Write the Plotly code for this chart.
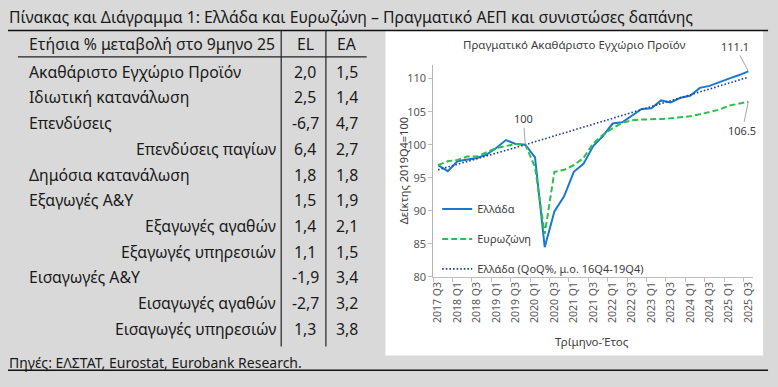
import plotly.graph_objects as go

W, H = 778, 387

# ---------------- data ----------------
row_labels = ["Ακαθάριστο Εγχώριο Προϊόν", "Ιδιωτική κατανάλωση", "Επενδύσεις",
              "Επενδύσεις παγίων", "Δημόσια κατανάλωση", "Εξαγωγές Α&Υ",
              "Εξαγωγές αγαθών", "Εξαγωγές υπηρεσιών", "Εισαγωγές Α&Υ",
              "Εισαγωγές αγαθών", "Εισαγωγές υπηρεσιών"]
row_sub = [0, 0, 0, 1, 0, 0, 1, 1, 0, 1, 1]
el_values = [2.0, 2.5, -6.7, 6.4, 1.8, 1.5, 1.4, 1.1, -1.9, -2.7, 1.3]
ea_values = [1.5, 1.4, 4.7, 2.7, 1.8, 1.9, 2.1, 1.5, 3.4, 3.2, 3.8]

quarters = ["2017 Q3", "2017 Q4",
            "2018 Q1", "2018 Q2", "2018 Q3", "2018 Q4",
            "2019 Q1", "2019 Q2", "2019 Q3", "2019 Q4",
            "2020 Q1", "2020 Q2", "2020 Q3", "2020 Q4",
            "2021 Q1", "2021 Q2", "2021 Q3", "2021 Q4",
            "2022 Q1", "2022 Q2", "2022 Q3", "2022 Q4",
            "2023 Q1", "2023 Q2", "2023 Q3", "2023 Q4",
            "2024 Q1", "2024 Q2", "2024 Q3", "2024 Q4",
            "2025 Q1", "2025 Q2", "2025 Q3"]
greece = [96.9, 96.0, 97.5, 97.7, 98.0, 98.5, 99.5, 100.7, 100.1, 100.0,
          98.1, 84.5, 89.9, 92.2, 95.9, 97.1, 99.8, 101.3, 103.2, 103.4,
          104.4, 105.4, 105.5, 106.7, 106.4, 107.1, 107.4, 108.6, 108.9,
          109.5, 110.0, 110.5, 111.1]
eurozone = [96.9, 97.5, 97.7, 98.2, 98.2, 98.9, 99.5, 99.8, 100.1, 100.0,
            96.6, 86.5, 95.9, 96.2, 96.9, 98.0, 100.2, 101.5, 102.5, 103.3,
            103.7, 103.8, 103.8, 103.9, 104.0, 104.1, 104.3, 104.6, 104.9,
            105.3, 105.9, 106.2, 106.5]
trend_q = ["2017 Q3", "2019 Q4", "2025 Q3"]
trend_v = [96.2, 100.0, 110.2]

# ---------------- helpers ----------------
def px(x):
    return x / W

def py(y):
    return 1 - y / H

FONT = "Noto Sans"
TXT = "#1a1a1a"
GREY = "#595959"

fig = go.Figure()

fig.add_trace(go.Scatter(x=quarters, y=greece, mode="lines", name="Ελλάδα",
                         legendgroup="a",
                         line=dict(color="#1a78d2", width=2)))
fig.add_trace(go.Scatter(x=quarters, y=eurozone, mode="lines", name="Ευρωζώνη",
                         legendgroup="b",
                         line=dict(color="#2cbf4e", width=2, dash="6px,3px")))
fig.add_trace(go.Scatter(x=trend_q, y=trend_v, mode="lines",
                         name="Ελλάδα (QoQ%, μ.ο. 16Q4-19Q4)",
                         legendgroup="c",
                         line=dict(color="#24408e", width=1.6, dash="1.6px,2px")))

shapes = []
# white chart panel
shapes.append(dict(type="rect", xref="paper", yref="paper", layer="below",
                   x0=px(385), x1=px(765), y0=py(362), y1=py(31),
                   fillcolor="white", line=dict(width=0)))
# title underline & bottom line
for yy in (31, 377):
    shapes.append(dict(type="line", xref="paper", yref="paper",
                       x0=px(5), x1=px(770), y0=py(yy), y1=py(yy),
                       line=dict(color="#111111", width=1.5)))
# header underline
shapes.append(dict(type="line", xref="paper", yref="paper",
                   x0=px(15), x1=px(366), y0=py(58), y1=py(58),
                   line=dict(color="#222222", width=1.2)))
# column separators
for xx in (280, 325):
    shapes.append(dict(type="line", xref="paper", yref="paper",
                       x0=px(xx), x1=px(xx), y0=py(31), y1=py(353),
                       line=dict(color="#222222", width=1.2)))

ann = []
def txt(x, y, s, size=15, anchor="left", color=TXT, font=FONT):
    ann.append(dict(x=px(x), y=py(y), xref="paper", yref="paper", text=s,
                    showarrow=False, xanchor=anchor, yanchor="middle",
                    font=dict(family=font, size=size, color=color)))

# main title
txt(4, 17, "Πίνακας και Διάγραμμα 1: Ελλάδα και Ευρωζώνη – Πραγματικό ΑΕΠ και συνιστώσες δαπάνης",
    size=15.8)
# table header
TS = 15.8
txt(24, 45, "Ετήσια % μεταβολή στο 9μηνο 25", size=TS)
txt(304, 45, "EL", size=TS, anchor="center")
txt(346, 45, "EA", size=TS, anchor="center")

fmt = lambda v: f"{v:.1f}".replace(".", ",")
for i, lab in enumerate(row_labels):
    yy = 73 + 26.2 * i
    if row_sub[i]:
        txt(277, yy, lab, size=TS, anchor="right")
    else:
        txt(24, yy, lab, size=TS, anchor="left")
    txt(304, yy, fmt(el_values[i]), size=TS, anchor="center")
    txt(346, yy, fmt(ea_values[i]), size=TS, anchor="center")

# source
txt(4, 369, "Πηγές: ΕΛΣΤΑΤ, Eurostat, Eurobank Research.", size=14)

# chart title & axis titles
txt(575, 45, "Πραγματικό Ακαθάριστο Εγχώριο Προϊόν", size=11.5, anchor="center", color="#404040")
txt(593, 348, "Τρίμηνο-Έτος", size=11.5, anchor="center", color="#404040")
ann.append(dict(x=px(403), y=py(174), xref="paper", yref="paper",
                text="Δείκτης 2019Q4=100", showarrow=False, textangle=-90,
                xanchor="center", yanchor="middle",
                font=dict(family=FONT, size=11, color="#404040")))

# data labels with leader lines
lab_font = dict(family=FONT, size=11, color="#404040")
ann.append(dict(x="2019 Q4", y=100.0, xref="x", yref="y", text="100",
                showarrow=True, arrowhead=0, arrowwidth=1, arrowcolor="#a6a6a6",
                ax=-2, ay=-26, font=lab_font))
ann.append(dict(x=quarters[-1], y=greece[-1], xref="x", yref="y",
                text=f"{greece[-1]:.1f}",
                showarrow=True, arrowhead=0, arrowwidth=1, arrowcolor="#a6a6a6",
                ax=-13, ay=-25, font=lab_font))
ann.append(dict(x=quarters[-1], y=eurozone[-1], xref="x", yref="y",
                text=f"{eurozone[-1]:.1f}",
                showarrow=True, arrowhead=0, arrowwidth=1, arrowcolor="#a6a6a6",
                ax=-6, ay=29, font=lab_font))

fig.update_layout(
    width=W, height=H,
    margin=dict(l=0, r=0, t=0, b=0),
    paper_bgcolor="#d9d9d9",
    plot_bgcolor="white",
    showlegend=True,
    legend=dict(x=px(437), y=py(198), xanchor="left", yanchor="top",
                bgcolor="rgba(0,0,0,0)", tracegroupgap=11,
                font=dict(family=FONT, size=11, color="#404040")),
    shapes=shapes,
    annotations=ann,
    xaxis=dict(domain=[px(433), px(755)], type="category",
               categoryorder="array", categoryarray=quarters,
               range=[-0.5, len(quarters) - 0.5],
               dtick=2, tick0=0, tickson="boundaries",
               ticks="outside", ticklen=4, tickcolor="#bfbfbf",
               tickangle=-90, showgrid=False, zeroline=False,
               showline=True, linecolor="#bfbfbf", linewidth=1,
               tickfont=dict(family=FONT, size=10.5, color=GREY)),
    yaxis=dict(domain=[py(282), py(66.6)], range=[80, 112],
               tickvals=[80, 85, 90, 95, 100, 105, 110],
               ticks="outside", ticklen=4, tickcolor="#bfbfbf",
               showgrid=False, zeroline=False,
               showline=True, linecolor="#b3b3b3", linewidth=1,
               tickfont=dict(family=FONT, size=11, color=GREY)),
)

fig.write_html("out.html",
               config={"displayModeBar": False},
               post_script="document.body.style.margin='0';document.body.style.overflow='hidden';")
